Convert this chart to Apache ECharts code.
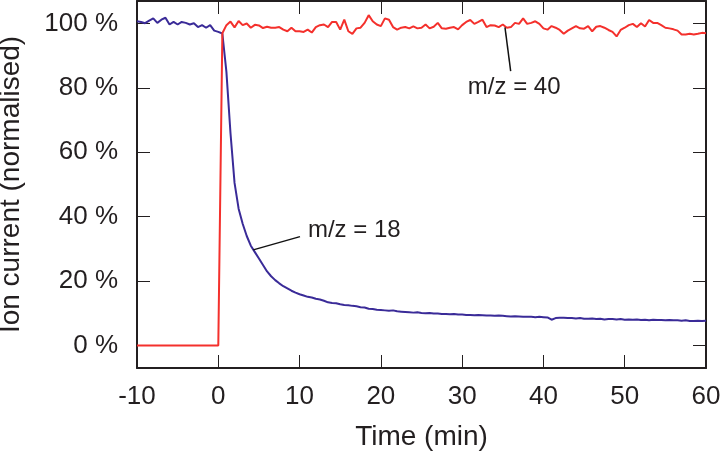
<!DOCTYPE html>
<html><head><meta charset="utf-8">
<script src="https://cdn.jsdelivr.net/npm/echarts@6/dist/echarts.min.js"></script>
<style>html,body{margin:0;padding:0;background:#fff}#c{width:720px;height:454px}</style>
</head><body><div id="c"></div>
<script>
// Time (min)
const time = [-10,-9.5,-9,-8.5,-8,-7.5,-7,-6.5,-6,-5.5,-5,-4.5,-4,-3.5,-3,-2.5,-2,-1.5,-1,-0.5,0,
0.5,1,1.5,2,2.5,3,3.5,4,4.5,5,5.5,6,6.5,7,7.5,8,8.5,9,9.5,10,
10.5,11,11.5,12,12.5,13,13.5,14,14.5,15,15.5,16,16.5,17,17.5,18,18.5,19,19.5,20,
20.5,21,21.5,22,22.5,23,23.5,24,24.5,25,25.5,26,26.5,27,27.5,28,28.5,29,29.5,30,
30.5,31,31.5,32,32.5,33,33.5,34,34.5,35,35.5,36,36.5,37,37.5,38,38.5,39,39.5,40,
40.5,41,41.5,42,42.5,43,43.5,44,44.5,45,45.5,46,46.5,47,47.5,48,48.5,49,49.5,50,
50.5,51,51.5,52,52.5,53,53.5,54,54.5,55,55.5,56,56.5,57,57.5,58,58.5,59,59.5,60];

// m/z = 18 (normalised ion current, %)
const mz18 = [100.7,100.5,100.1,100.9,101.6,100.2,101.2,101.8,99.7,100.5,99.7,100.5,100.2,99.7,100.1,98.9,99.5,98.7,99.5,97.8,97.4,
96.9,85,66,50.5,42.5,37.8,34,31,29,27,25,23,21.5,20.3,19.3,18.4,17.7,17.0,16.4,15.9,
15.5,15.1,14.9,14.5,14.3,13.9,13.4,13.2,13.1,12.8,12.6,12.5,12.3,12.2,11.9,11.8,11.4,11.3,11.1,11.0,
10.9,10.8,10.9,10.6,10.5,10.4,10.3,10.2,10.3,10.1,10.0,10.1,9.9,9.9,9.8,9.8,9.7,9.8,9.6,9.6,
9.5,9.5,9.4,9.5,9.4,9.3,9.3,9.2,9.3,9.2,9.1,9.0,9.1,9.0,8.9,8.9,8.9,8.8,8.9,8.8,
8.7,8.0,8.5,8.6,8.6,8.5,8.5,8.4,8.5,8.3,8.3,8.4,8.2,8.3,8.1,8.2,8.2,8.1,8.2,8.0,
8.1,8.0,8.1,7.9,8.0,7.8,8.0,7.9,7.9,7.8,7.9,7.8,7.8,7.7,7.8,7.6,7.6,7.7,7.6,7.7];

// m/z = 40 (normalised ion current, %)
const mz40 = [0,0,0,0,0,0,0,0,0,0,0,0,0,0,0,0,0,0,0,0,0,
97,99.5,100.6,98.8,100.8,99.5,100,98.7,99.6,99.4,98.6,99,98.7,98.7,98.9,98.1,97.6,98.7,97.6,97.6,
97.4,98.1,97.2,98.9,99.5,99.7,98.9,100.5,100.5,98.1,101.2,97.6,96.8,98.5,98.7,100.2,102.6,100.7,99.7,99.2,
101.6,101.2,98.9,98.1,98.7,98.9,98.5,99.1,98.5,98.7,99.7,98.5,99.0,100.2,98.5,98.4,98.7,98.9,98.2,99.5,
100.5,101.1,99.9,100.5,101.2,98.9,99.5,99.4,98.9,99.7,98.7,98.9,100.2,99.9,101.6,99.9,100.2,100.7,99.9,98.5,
98.1,99.2,98.7,98.0,96.8,97.8,98.5,99.2,98.5,98.4,99.2,97.6,99.0,99.2,98.7,98.0,97.4,96.0,98.0,98.7,
99.5,99.9,98.9,100.1,99.1,101.1,100.2,100.2,99.5,98.7,98.5,98.2,97.8,96.6,96.6,96.8,96.6,96.8,97.1,97.0];

const yTicks = [0, 20, 40, 60, 80, 100];
const seriesNames = ['m/z = 18', 'm/z = 40'];
// annotation anchors in data units: label anchor, leader start (on curve), leader end
const annotations = [
  {text: 'm/z = 40', label: [30.7, 80.1], from: [35.27, 98.8], to: [35.97, 85.2]},
  {text: 'm/z = 18', label: [11.03, 35.9], from: [4.3, 29.7], to: [10.05, 33.8]}
];

const FONT = "'Liberation Sans', Arial, sans-serif";
const TXT = '#231f20';
const AX = '#231f20';

const chart = echarts.init(document.getElementById('c'), null, {renderer: 'canvas'});
const pairs = (vals) => time.map((t, i) => [t, vals[i]]);

const tickStyle = {show: true, inside: true, length: 13, lineStyle: {color: AX, width: 1}};
const lineStyle = {show: true, onZero: false, lineStyle: {color: AX, width: 2}};

chart.setOption({
  animation: false,
  backgroundColor: '#fff',
  grid: {left: 137, right: 14, top: 1, bottom: 86, containLabel: false, outerBoundsMode: 'none'},
  xAxis: [{
    type: 'value', min: -10, max: 60, interval: 10, position: 'bottom',
    axisLine: lineStyle, axisTick: tickStyle, splitLine: {show: false},
    axisLabel: {show: true, margin: 16, color: TXT, fontFamily: FONT, fontSize: 26, showMinLabel: true, showMaxLabel: true},
    name: 'Time (min)', nameLocation: 'middle', nameGap: 55,
    nameTextStyle: {color: TXT, fontFamily: FONT, fontSize: 28}
  }, {
    type: 'value', min: -10, max: 60, interval: 10, position: 'top',
    axisLine: lineStyle, axisTick: tickStyle, splitLine: {show: false}, axisLabel: {show: false}
  }],
  yAxis: [{
    type: 'value', min: -7, max: 107, position: 'left',
    axisLine: lineStyle, splitLine: {show: false},
    axisTick: Object.assign({}, tickStyle, {customValues: yTicks}),
    axisLabel: {show: true, customValues: yTicks, formatter: '{value} %', margin: 19, color: TXT, fontFamily: FONT, fontSize: 26},
    name: 'Ion current (normalised)', nameLocation: 'middle', nameGap: 112,
    nameTextStyle: {color: TXT, fontFamily: FONT, fontSize: 28}
  }, {
    type: 'value', min: -7, max: 107, position: 'right',
    axisLine: lineStyle, splitLine: {show: false},
    axisTick: Object.assign({}, tickStyle, {customValues: yTicks}),
    axisLabel: {show: false}
  }],
  series: [{
    name: seriesNames[0], type: 'line', data: pairs(mz18), xAxisIndex: 0, yAxisIndex: 0,
    showSymbol: false, symbol: 'none', lineStyle: {color: '#3a2b98', width: 2}, z: 3
  }, {
    name: seriesNames[1], type: 'line', data: pairs(mz40), xAxisIndex: 0, yAxisIndex: 0,
    showSymbol: false, symbol: 'none', lineStyle: {color: '#f4302c', width: 2}, z: 4
  }]
});

const toPx = (p) => chart.convertToPixel({xAxisIndex: 0, yAxisIndex: 0}, p);
const graphics = [];
annotations.forEach(a => {
  const f = toPx(a.from), t = toPx(a.to), l = toPx(a.label);
  graphics.push({type: 'line', shape: {x1: f[0], y1: f[1], x2: t[0], y2: t[1]}, style: {stroke: '#111', lineWidth: 1.5}, z: 10});
  graphics.push({type: 'text', x: l[0], y: l[1], style: {text: a.text, fill: TXT, font: "24px 'Liberation Sans', Arial, sans-serif", textAlign: 'left', textVerticalAlign: 'middle'}, z: 10});
});
chart.setOption({graphic: graphics});
</script>
</body></html>
